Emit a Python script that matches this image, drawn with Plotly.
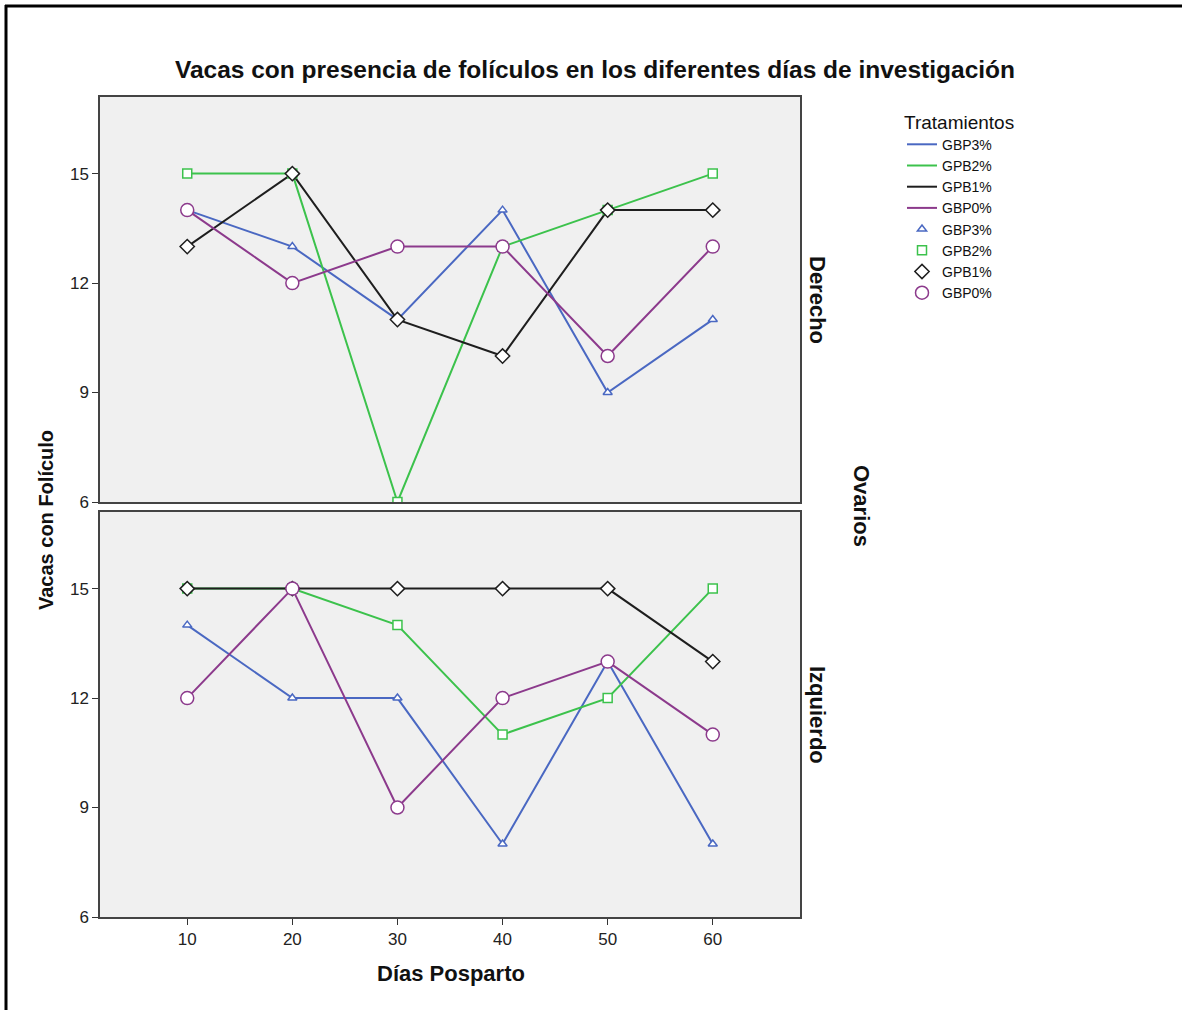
import plotly.graph_objects as go

# Days postpartum on the x axis
dias = [10, 20, 30, 40, 50, 60]

# Treatment groups (legend names)
tratamientos = ["GBP3%", "GPB2%", "GPB1%", "GBP0%"]

# Cows with follicles, right ovary (Derecho)
derecho_gbp3 = [14, 13, 11, 14, 9, 11]
derecho_gpb2 = [15, 15, 6, 13, 14, 15]
derecho_gpb1 = [13, 15, 11, 10, 14, 14]
derecho_gbp0 = [14, 12, 13, 13, 10, 13]

# Cows with follicles, left ovary (Izquierdo)
izquierdo_gbp3 = [14, 12, 12, 8, 13, 8]
izquierdo_gpb2 = [15, 15, 14, 11, 12, 15]
izquierdo_gpb1 = [15, 15, 15, 15, 15, 13]
izquierdo_gbp0 = [12, 15, 9, 12, 13, 11]

y_ticks = [6, 9, 12, 15]
x_ticks = [10, 20, 30, 40, 50, 60]

colores = ["#4a68c2", "#3cc24c", "#1e1e1e", "#8c3a8c"]
simbolos = ["triangle-up", "square", "diamond", "circle"]
tamanos = [8, 9, 11, 13]

paneles = [
    ("x2", "y", [derecho_gbp3, derecho_gpb2, derecho_gpb1, derecho_gbp0]),
    ("x", "y2", [izquierdo_gbp3, izquierdo_gpb2, izquierdo_gpb1, izquierdo_gbp0]),
]

fig = go.Figure()

# Lines first (legend shows the line entries), then markers
for p, (xref, yref, series) in enumerate(paneles):
    for nombre, vals, color in zip(tratamientos, series, colores):
        fig.add_trace(go.Scatter(
            x=dias, y=vals, mode="lines", name=nombre,
            line=dict(color=color, width=2),
            xaxis=xref, yaxis=yref, legendgroup="l" + nombre,
            showlegend=(p == 0), hoverinfo="x+y",
        ))
for p, (xref, yref, series) in enumerate(paneles):
    for nombre, vals, color, sym, sz in zip(tratamientos, series, colores, simbolos, tamanos):
        fig.add_trace(go.Scatter(
            x=dias, y=vals, mode="markers", name=nombre,
            marker=dict(symbol=sym, size=sz, color="white",
                        line=dict(color=color, width=1.5)),
            xaxis=xref, yaxis=yref, legendgroup="m" + nombre,
            showlegend=(p == 0), hoverinfo="x+y",
        ))

W, H = 1182, 1010
x0, x1 = 100 / W, 800 / W
top_dom = [1 - 502 / H, 1 - 97 / H]
bot_dom = [1 - 917 / H, 1 - 512 / H]

marco = dict(showgrid=False, zeroline=False, showline=True, mirror=True,
             linecolor="#444", linewidth=1.5, automargin=False)

eje_y = dict(
    range=[6, 17.1], tickvals=y_ticks, ticks="outside", ticklen=6,
    tickcolor="#333", tickfont=dict(size=17, color="#222"), **marco,
)

fig.update_layout(
    width=W, height=H,
    margin=dict(l=0, r=0, t=0, b=0, autoexpand=False),
    paper_bgcolor="white", plot_bgcolor="#f0f0f0",
    font=dict(family="Liberation Sans, Arial, sans-serif", color="#111"),
    title=dict(
        text="<b>Vacas con presencia de folículos en los diferentes días de investigación</b>",
        x=595 / W, xanchor="center", y=1 - 69 / H, yanchor="middle",
        font=dict(size=24.5, color="#111"),
    ),
    xaxis=dict(
        domain=[x0, x1], range=[1.7, 68.3], tickvals=x_ticks,
        ticks="outside", ticklen=6, tickcolor="#333",
        tickfont=dict(size=17, color="#222"), anchor="y2", **marco,
    ),
    xaxis2=dict(
        domain=[x0, x1], range=[1.7, 68.3], matches="x",
        showticklabels=False, ticks="", anchor="y", **marco,
    ),
    yaxis=dict(domain=top_dom, anchor="x2", **eje_y),
    yaxis2=dict(domain=bot_dom, anchor="x", **eje_y),
    legend=dict(
        x=902 / W, xanchor="left", y=1 - 104 / H, yanchor="top",
        title=dict(text="Tratamientos", font=dict(size=19)),
        font=dict(size=14, color="#111"), bgcolor="rgba(0,0,0,0)",
        itemwidth=30, tracegroupgap=0,
    ),
    annotations=[
        dict(text="<b>Días Posparto</b>", xref="paper", yref="paper",
             x=451 / W, y=1 - 973 / H, showarrow=False,
             font=dict(size=22), xanchor="center", yanchor="middle"),
        dict(text="<b>Vacas con Folículo</b>", xref="paper", yref="paper",
             x=46 / W, y=1 - 520 / H, textangle=-90, showarrow=False,
             font=dict(size=20), xanchor="center", yanchor="middle"),
        dict(text="<b>Derecho</b>", xref="paper", yref="paper",
             x=818 / W, y=1 - 300 / H, textangle=90, showarrow=False,
             font=dict(size=22), xanchor="center", yanchor="middle"),
        dict(text="<b>Izquierdo</b>", xref="paper", yref="paper",
             x=818 / W, y=1 - 715 / H, textangle=90, showarrow=False,
             font=dict(size=22), xanchor="center", yanchor="middle"),
        dict(text="<b>Ovarios</b>", xref="paper", yref="paper",
             x=862 / W, y=1 - 506 / H, textangle=90, showarrow=False,
             font=dict(size=22), xanchor="center", yanchor="middle"),
    ],
    shapes=[
        dict(type="line", xref="paper", yref="paper",
             x0=5 / W, x1=1, y0=1 - 6 / H, y1=1 - 6 / H,
             line=dict(color="black", width=3)),
        dict(type="line", xref="paper", yref="paper",
             x0=6 / W, x1=6 / W, y0=0, y1=1 - 5 / H,
             line=dict(color="black", width=3)),
    ],
)

fig.write_html("out.html")
